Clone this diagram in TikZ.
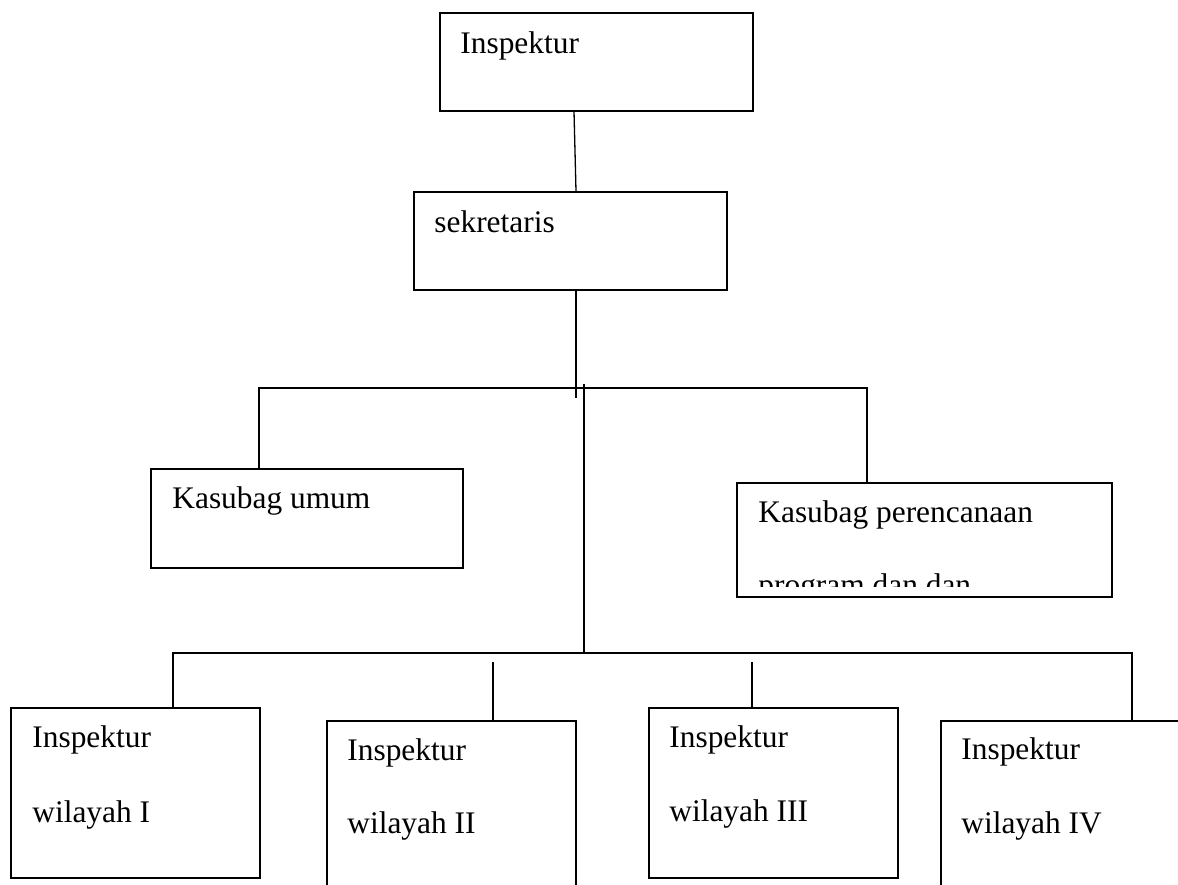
\documentclass[tikz,border=0pt]{standalone}
\usepackage{fontspec}
\setmainfont{Liberation Serif}
\begin{document}
\begin{tikzpicture}[x=0.5pt,y=-0.5pt,
  box/.style={draw,line width=0.75pt,rectangle,inner sep=0pt,anchor=north west},
  lbl/.style={anchor=base west,inner sep=0pt,font=\fontsize{15.7pt}{18pt}\selectfont},
  conn/.style={line width=0.65pt}]
\clip (0,0) rectangle (1178,884);
% boxes
\node[box,minimum width=156.5pt,minimum height=49pt] (insp) at (439,12) {};
\node[box,minimum width=156.5pt,minimum height=49pt] (sek) at (413,191) {};
\node[box,minimum width=156pt,minimum height=49.5pt] (umum) at (150,468) {};
\node[box,minimum width=187.5pt,minimum height=57pt] (renc) at (736,482) {};
\node[box,minimum width=124.5pt,minimum height=85pt] (w1) at (10,707) {};
\node[box,minimum width=124.5pt,minimum height=95pt] (w2) at (326,720) {};
\node[box,minimum width=124.5pt,minimum height=85pt] (w3) at (648,707) {};
\node[box,minimum width=140pt,minimum height=95pt] (w4) at (940,720) {};
% texts
\node[lbl] (tinsp) at (460,53) {Inspektur};
\node[lbl] (tsek) at (434,232) {sekretaris};
\node[lbl] (tumum) at (172,508) {Kasubag umum};
\node[lbl] (trenc1) at (758,522) {Kasubag perencanaan};
\begin{scope}
  \clip (736,482) rectangle (1111,586);
  \node[lbl] (trenc2) at (758,595) {program dan dan};
\end{scope}
\node[lbl] (tw1a) at (32,747) {Inspektur};
\node[lbl] (tw1b) at (32,822) {wilayah I};
\node[lbl] (tw2a) at (347,760) {Inspektur};
\node[lbl] (tw2b) at (347,833) {wilayah II};
\node[lbl] (tw3a) at (669,747) {Inspektur};
\node[lbl] (tw3b) at (669,821) {wilayah III};
\node[lbl] (tw4a) at (961,759) {Inspektur};
\node[lbl] (tw4b) at (961,833) {wilayah IV};
% connectors
\coordinate (a1) at (574,0);
\coordinate (a2) at (576,0);
\draw[conn] (a1 |- insp.south) -- (a2 |- sek.north);
\coordinate (stub) at (576,398);
\draw[conn] (stub |- sek.south) -- (stub);
\coordinate (barL) at (259,388);
\coordinate (barR) at (867,388);
\draw[conn] (barL |- umum.north) -- (barL) -- (barR) -- (barR |- renc.north);
\coordinate (tr2top) at (584,384);
\coordinate (tr2bot) at (584,653);
\draw[conn] (tr2top) -- (tr2bot);
\coordinate (lbL) at (173,653);
\coordinate (lbR) at (1132,653);
\draw[conn] (lbL |- w1.north) -- (lbL) -- (lbR) -- (lbR |- w4.north);
\coordinate (d2) at (493,662);
\coordinate (d3) at (752,662);
\draw[conn] (d2) -- (d2 |- w2.north);
\draw[conn] (d3) -- (d3 |- w3.north);
\end{tikzpicture}
\end{document}
